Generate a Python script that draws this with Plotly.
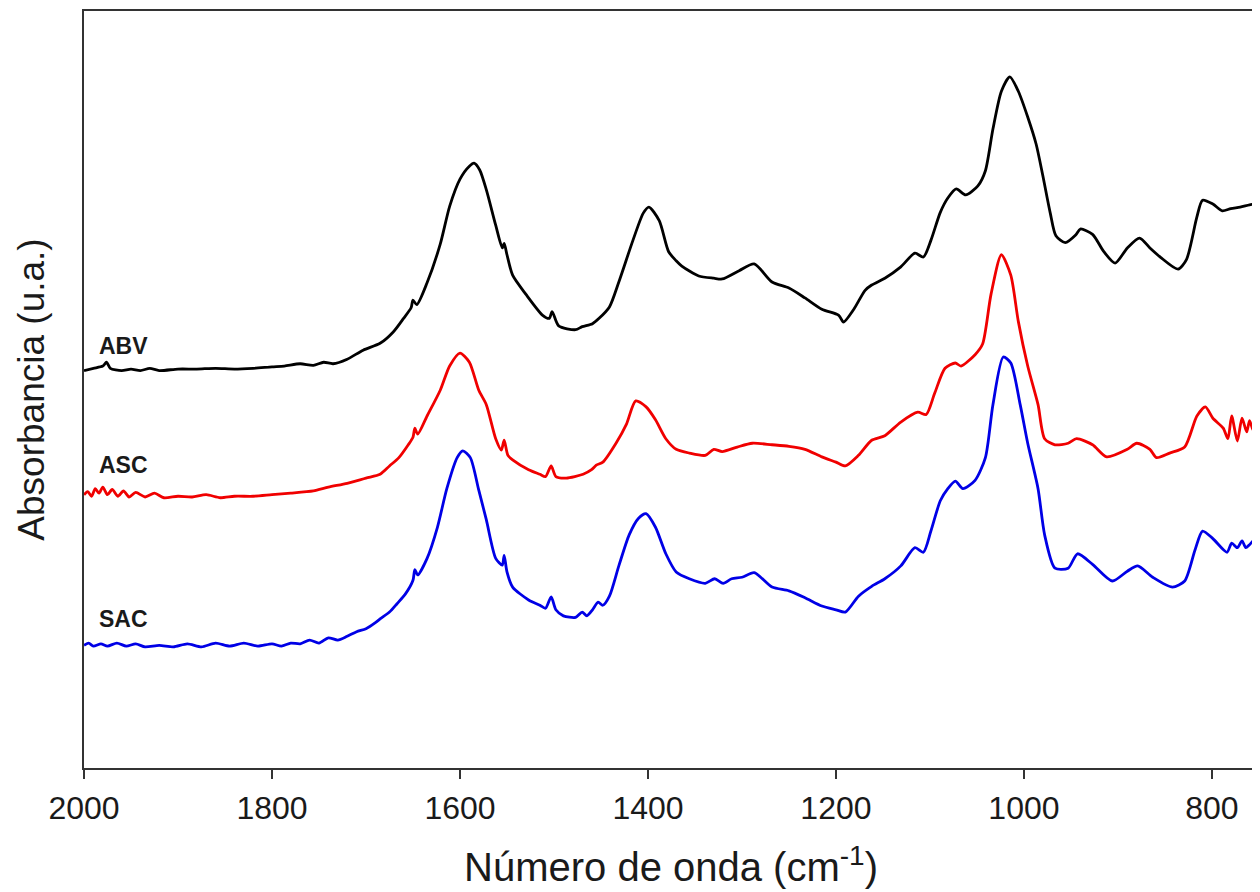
import plotly.graph_objects as go

# ---- Data (wavenumber in cm-1, absorbance in arbitrary units) ----
abv_wn = [2000, 1990, 1980, 1976, 1972, 1960, 1950, 1940, 1930, 1920, 1900, 1880, 1860, 1840, 1820,
          1800, 1787, 1770, 1756, 1745, 1735, 1720, 1703, 1685, 1671, 1660, 1652, 1650, 1646, 1635,
          1621, 1611, 1600, 1590, 1585, 1579, 1572, 1562, 1555, 1553, 1550, 1544, 1530, 1512, 1505,
          1502, 1495, 1477, 1470, 1459, 1452, 1441, 1431, 1416, 1405, 1399, 1388, 1378, 1370, 1364,
          1346, 1330, 1321, 1303, 1287, 1268, 1250, 1233, 1215, 1197, 1192, 1181, 1169, 1162, 1148,
          1131, 1116, 1107, 1099, 1089, 1081, 1072, 1062, 1049, 1041, 1033, 1024, 1015, 1006, 996,
          987, 980, 972, 966, 956, 945, 940, 927, 915, 903, 890, 877, 866, 855, 836,
          827, 816, 810, 799, 789, 780, 770, 760, 751]
abv_abs = [0.525, 0.528, 0.531, 0.536, 0.528, 0.525, 0.527, 0.525, 0.528, 0.525, 0.527, 0.527, 0.528, 0.527, 0.528,
           0.530, 0.531, 0.534, 0.532, 0.536, 0.534, 0.540, 0.552, 0.561, 0.576, 0.594, 0.608, 0.618, 0.612, 0.641,
           0.692, 0.742, 0.778, 0.795, 0.799, 0.790, 0.764, 0.717, 0.687, 0.693, 0.678, 0.651, 0.626, 0.598, 0.594,
           0.603, 0.584, 0.579, 0.583, 0.587, 0.594, 0.609, 0.642, 0.697, 0.733, 0.741, 0.723, 0.682, 0.670, 0.663,
           0.650, 0.647, 0.646, 0.657, 0.666, 0.642, 0.634, 0.621, 0.606, 0.598, 0.589, 0.606, 0.631, 0.638, 0.647,
           0.662, 0.680, 0.675, 0.697, 0.734, 0.753, 0.765, 0.757, 0.769, 0.789, 0.844, 0.894, 0.913, 0.894, 0.860,
           0.824, 0.783, 0.733, 0.703, 0.694, 0.704, 0.712, 0.705, 0.682, 0.667, 0.687, 0.700, 0.687, 0.675, 0.659,
           0.672, 0.728, 0.750, 0.745, 0.736, 0.739, 0.741, 0.744, 0.746]

asc_wn = [2000, 1996, 1992, 1988, 1984, 1980, 1975, 1970, 1964, 1958, 1952, 1945, 1935, 1925, 1915,
          1900, 1885, 1870, 1855, 1840, 1820, 1800, 1780, 1756, 1740, 1720, 1700, 1685, 1675, 1665,
          1655, 1650, 1648, 1645, 1635, 1621, 1611, 1600, 1590, 1580, 1572, 1562, 1556, 1553, 1549,
          1544, 1527, 1515, 1509, 1503, 1498, 1487, 1469, 1460, 1455, 1448, 1434, 1423, 1413, 1402,
          1392, 1381, 1370, 1356, 1339, 1330, 1321, 1305, 1289, 1268, 1250, 1233, 1215, 1200, 1190,
          1176, 1162, 1148, 1131, 1113, 1104, 1095, 1084, 1073, 1067, 1052, 1044, 1035, 1024, 1014,
          1006, 996, 985, 978, 967, 953, 944, 927, 912, 890, 880, 866, 859, 845, 829,
          816, 807, 799, 788, 783, 779, 773, 768, 763, 760, 756, 751]
asc_abs = [0.361, 0.365, 0.359, 0.369, 0.363, 0.371, 0.361, 0.368, 0.359, 0.366, 0.358, 0.364, 0.358, 0.363, 0.357,
           0.359, 0.358, 0.361, 0.357, 0.359, 0.359, 0.361, 0.363, 0.366, 0.371, 0.376, 0.383, 0.388, 0.399, 0.410,
           0.427, 0.437, 0.449, 0.441, 0.465, 0.499, 0.531, 0.548, 0.536, 0.499, 0.480, 0.435, 0.420, 0.433, 0.413,
           0.407, 0.394, 0.388, 0.385, 0.399, 0.385, 0.383, 0.388, 0.394, 0.400, 0.404, 0.429, 0.454, 0.485, 0.477,
           0.460, 0.435, 0.421, 0.416, 0.413, 0.421, 0.418, 0.424, 0.429, 0.427, 0.425, 0.421, 0.411, 0.404, 0.399,
           0.413, 0.433, 0.439, 0.457, 0.470, 0.467, 0.495, 0.528, 0.535, 0.531, 0.546, 0.560, 0.626, 0.678, 0.651,
           0.590, 0.531, 0.480, 0.435, 0.427, 0.429, 0.435, 0.427, 0.411, 0.421, 0.429, 0.421, 0.410, 0.416, 0.424,
           0.465, 0.477, 0.462, 0.449, 0.435, 0.465, 0.432, 0.462, 0.444, 0.459, 0.446, 0.457]

sac_wn = [2000, 1995, 1990, 1982, 1975, 1965, 1955, 1945, 1935, 1920, 1905, 1890, 1875, 1860, 1845,
          1830, 1815, 1800, 1790, 1780, 1770, 1760, 1750, 1740, 1730, 1720, 1710, 1700, 1690, 1685,
          1675, 1667, 1658, 1650, 1648, 1645, 1635, 1624, 1614, 1603, 1597, 1589, 1580, 1572, 1562,
          1555, 1553, 1550, 1544, 1527, 1515, 1509, 1503, 1498, 1490, 1477, 1470, 1465, 1459, 1453,
          1448, 1441, 1431, 1420, 1410, 1402, 1392, 1381, 1370, 1356, 1339, 1329, 1320, 1311, 1300,
          1287, 1268, 1250, 1233, 1215, 1200, 1190, 1176, 1162, 1148, 1131, 1116, 1107, 1099, 1089,
          1081, 1073, 1065, 1052, 1041, 1033, 1022, 1014, 1004, 996, 985, 978, 967, 953, 943,
          927, 906, 890, 879, 863, 842, 829, 818, 810, 799, 784, 779, 773, 768, 764, 760, 755, 751]
sac_abs = [0.162, 0.165, 0.161, 0.164, 0.161, 0.165, 0.161, 0.164, 0.160, 0.162, 0.160, 0.164, 0.160, 0.165, 0.161,
           0.165, 0.161, 0.164, 0.161, 0.165, 0.164, 0.169, 0.165, 0.172, 0.169, 0.174, 0.180, 0.184, 0.192, 0.197,
           0.206, 0.217, 0.230, 0.248, 0.262, 0.255, 0.277, 0.318, 0.369, 0.410, 0.419, 0.410, 0.367, 0.328, 0.277,
           0.268, 0.281, 0.259, 0.239, 0.222, 0.215, 0.211, 0.226, 0.209, 0.201, 0.199, 0.206, 0.201, 0.209, 0.219,
           0.215, 0.227, 0.267, 0.308, 0.330, 0.336, 0.318, 0.283, 0.259, 0.250, 0.244, 0.250, 0.244, 0.250, 0.252,
           0.258, 0.239, 0.234, 0.225, 0.214, 0.209, 0.206, 0.227, 0.240, 0.250, 0.267, 0.291, 0.285, 0.313, 0.353,
           0.369, 0.379, 0.369, 0.380, 0.410, 0.480, 0.543, 0.535, 0.480, 0.429, 0.369, 0.308, 0.264, 0.264, 0.283,
           0.269, 0.247, 0.260, 0.267, 0.252, 0.239, 0.247, 0.288, 0.313, 0.303, 0.285, 0.297, 0.291, 0.300, 0.291,
           0.295, 0.301, 0.300]

series_names = ["ABV", "ASC", "SAC"]
series_colors = ["#000000", "#f00000", "#0000e6"]
label_x = 1986
label_y = [0.557, 0.400, 0.197]

x_ticks = [2000, 1800, 1600, 1400, 1200, 1000, 800]
x_range = [2000, 751]
y_range = [0, 1]

FONT = "Arial, Liberation Sans, sans-serif"

fig = go.Figure()
for wn, ab, name, col in zip([abv_wn, asc_wn, sac_wn], [abv_abs, asc_abs, sac_abs],
                             series_names, series_colors):
    fig.add_trace(go.Scatter(x=wn, y=ab, mode="lines", name=name,
                             line=dict(color=col, width=2.8, shape="spline", smoothing=0.7),
                             showlegend=False))

for name, ly in zip(series_names, label_y):
    fig.add_annotation(x=label_x, y=ly, text="<b>%s</b>" % name, showarrow=False,
                       xanchor="left", yanchor="middle",
                       font=dict(family=FONT, size=23, color="#1a1a1a"))

# page body has an 8px margin, so the figure is sized to fit the 1260x892 window
fig.update_layout(
    width=1252, height=884,
    margin=dict(l=76, r=2, t=3, b=124, autoexpand=False),
    paper_bgcolor="white", plot_bgcolor="white",
    font=dict(family=FONT, color="#1a1a1a"),
)
fig.update_xaxes(
    range=x_range, tickvals=x_ticks, ticktext=[str(t) for t in x_ticks],
    showgrid=False, zeroline=False, automargin=False,
    showline=True, linecolor="#333333", linewidth=2, mirror=True,
    ticks="outside", ticklen=9, tickwidth=1.5, tickcolor="#333333",
    tickfont=dict(family=FONT, size=32, color="#1a1a1a"),
    ticklabelstandoff=2,
    title=dict(text="Número de onda (cm<sup>-1</sup>)",
               font=dict(family=FONT, size=40, color="#1a1a1a"), standoff=28),
)
fig.update_yaxes(
    range=y_range, showticklabels=False, ticks="",
    showgrid=False, zeroline=False, automargin=False,
    showline=True, linecolor="#333333", linewidth=2, mirror=True,
    title=dict(text="Absorbancia (u.a.)",
               font=dict(family=FONT, size=37, color="#1a1a1a"), standoff=26),
)

fig.write_html("out.html")
